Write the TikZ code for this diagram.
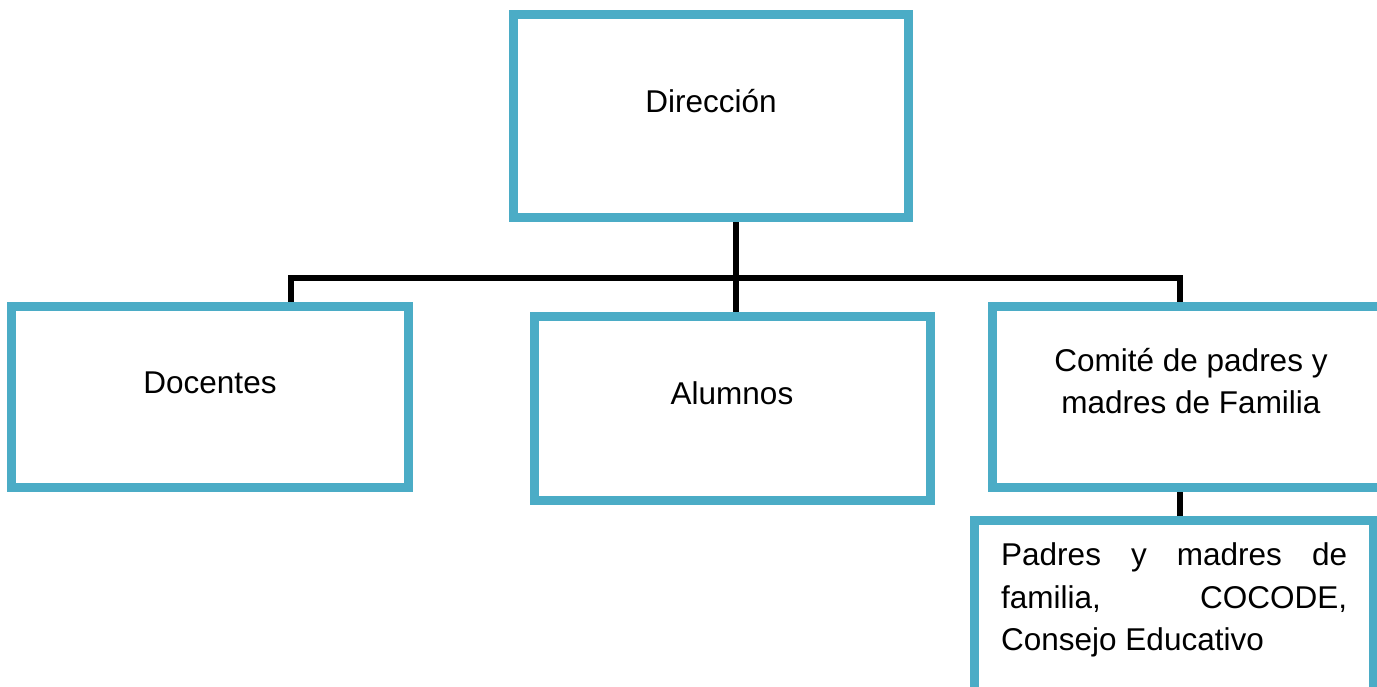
\documentclass[tikz,border=0pt]{standalone}
\usepackage{fontspec}
\setmainfont{Liberation Sans}
\definecolor{boxblue}{HTML}{4BACC6}
\begin{document}
\begin{tikzpicture}[x=1pt,y=-1pt,
  orgbox/.style={draw=boxblue,line width=6pt,fill=white,inner sep=0pt,
    minimum width=#1,rectangle},
  orgbox/.default=394pt,
  conn/.style={draw=black,line width=5.5pt},
  lbl/.style={inner sep=0pt,anchor=base,font=\fontsize{31.5}{42.5}\selectfont},
  lbll/.style={lbl,anchor=base west}]
\useasboundingbox (0,0) rectangle (1377,686);
\clip (0,0) rectangle (1377,686);
\fill[white] (0,0) rectangle (1377,686);
% bus coordinates
\coordinate (busc) at (736,278);
\coordinate (busl) at (291,278);
\coordinate (busr) at (1180,278);
% boxes (positions only)
\node[orgbox=392pt,minimum height=200pt] (dir) at (711,116) {};
\node[orgbox=394pt,minimum height=178pt] (doc) at (210,397) {};
\node[orgbox=393pt,minimum height=181pt] (alu) at (732.5,408.5) {};
\node[orgbox=400pt,minimum height=178pt] (com) at (1194,397) {};
\node[orgbox=396pt,minimum height=200pt] (pad) at (1174,622) {};
% connectors
\draw[conn] (busc |- dir.south) -- (busc |- alu.north);
\draw[conn] (busl |- doc.north) -- (busl) -- (busr) -- (busr |- com.north);
\draw[conn] (busr |- com.south) -- (busr |- pad.north);
% redraw box borders over connector ends
\foreach \n in {dir,doc,alu,com,pad}
  \draw[boxblue,line width=6pt] (\n.north west) rectangle (\n.south east);
% texts
\node[lbl] (tdir) at (711,112) {Dirección};
\node[lbl] (tdoc) at (210,393) {Docentes};
\node[lbl] (talu) at (732,404) {Alumnos};
\node[lbl] (tcom1) at (1191,371) {Comité de padres y};
\node[lbl] (tcom2) at (1191,413) {madres de Familia};
\node[lbll] (tpad1) at (1001,565) {\makebox[346pt][s]{Padres y madres de}};
\node[lbll] (tpad2) at (1001,608) {\makebox[346pt][s]{familia, COCODE,}};
\node[lbll] (tpad3) at (1001,650) {Consejo Educativo};
\end{tikzpicture}
\end{document}
